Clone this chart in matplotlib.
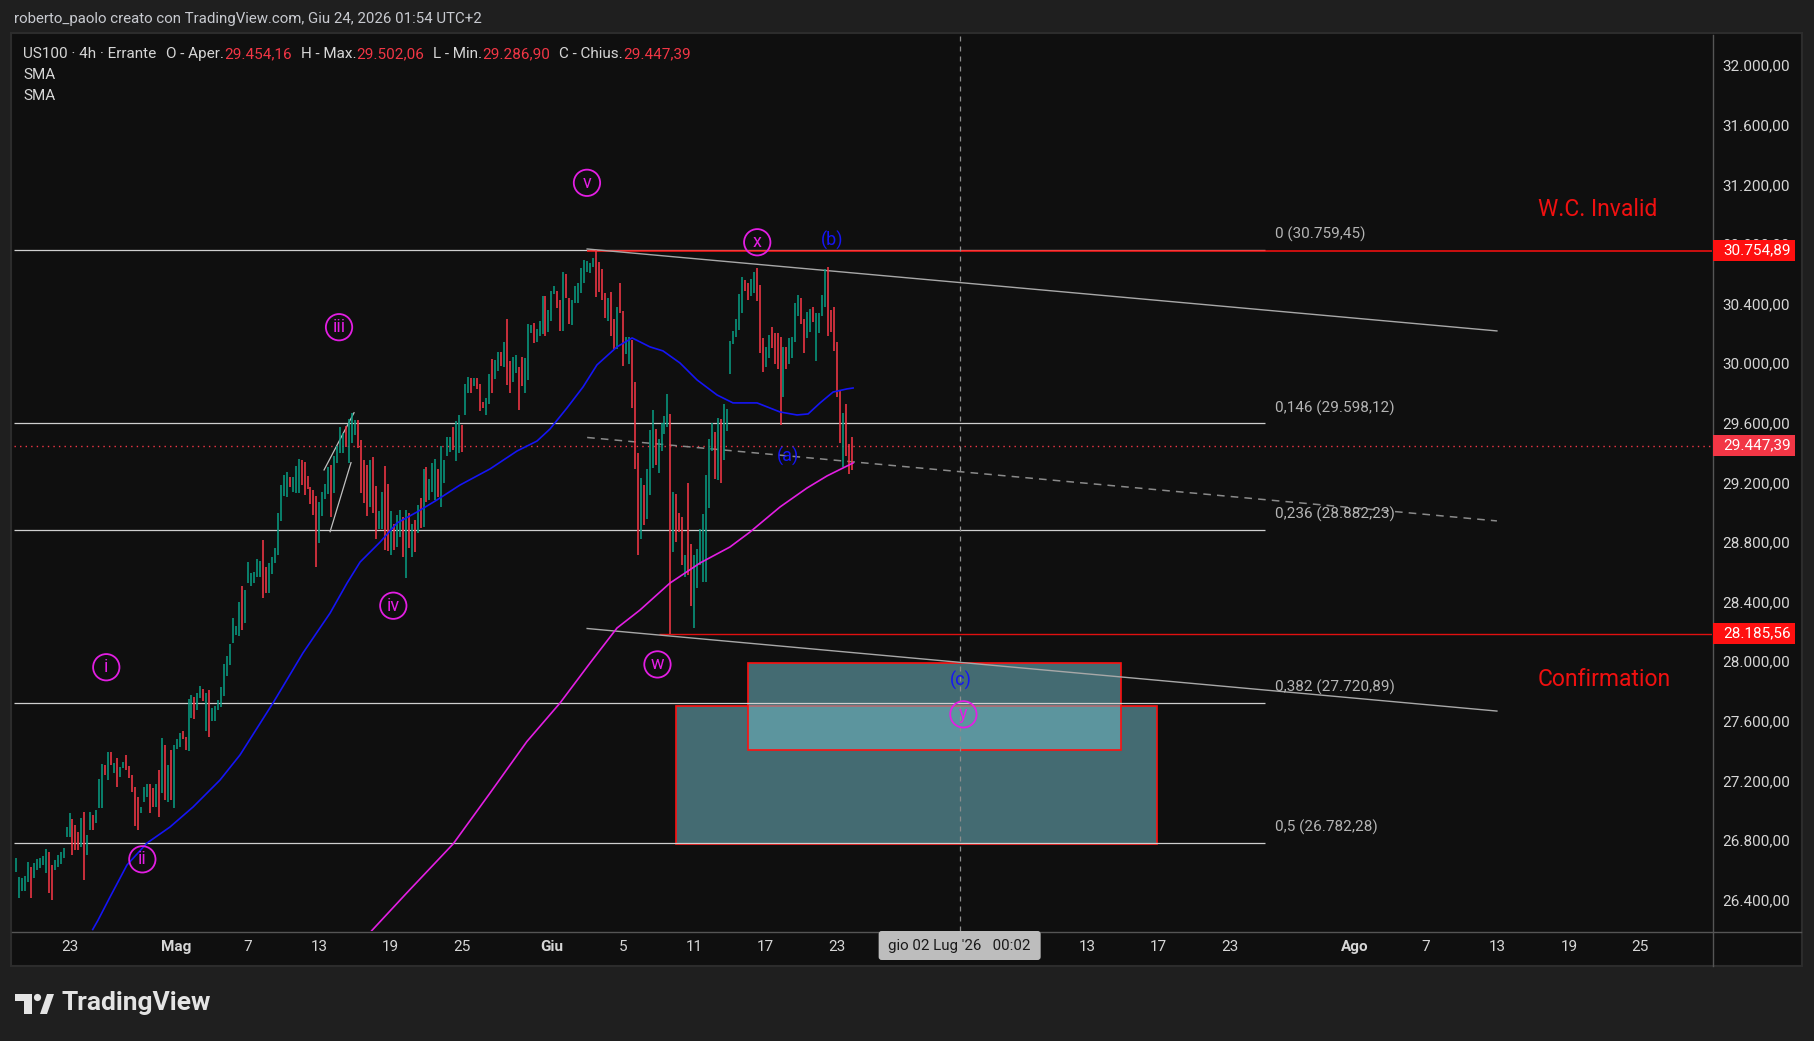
import matplotlib
matplotlib.use("Agg")
import matplotlib.pyplot as plt
from matplotlib.patches import Rectangle, Polygon, Circle, FancyBboxPatch
from matplotlib.transforms import IdentityTransform
from matplotlib.lines import Line2D

W, H, DPI = 1815, 1041, 100

# ---------------- data ----------------
# 4h candles, 6 bars per trading day, day 0 = Mon 20 Apr 2026
lows = [
    26589, 26410, 26461, 26461, 26522, 26410, 26544, 26600, 26610, 26630,
    26577, 26443, 26399, 26600, 26620, 26640, 26680, 26824, 26824, 26701,
    26734, 26734, 26756, 26533, 26701, 26868, 26868, 26913, 27014, 27014,
    27237, 27204, 27305, 27249, 27155, 27226, 27282, 27271, 27215, 27126,
    26895, 26868, 26980, 27058, 27092, 26980, 27025, 27020, 26958, 27119,
    27070, 27058, 27070, 27014, 27410, 27427, 27477, 27405, 27401, 27618,
    27611, 27674, 27752, 27736, 27535, 27490, 27602, 27602, 27674, 27696,
    27768, 27902, 27976, 28125, 28177, 28170, 28210, 28259, 28528, 28505,
    28528, 28568, 28564, 28427, 28456, 28461, 28586, 28658, 28713, 28944,
    29112, 29105, 29172, 29139, 29127, 29127, 29183, 29116, 29154, 29056,
    28982, 28631, 28796, 28975, 29087, 29122, 28966, 29127, 29333, 29400,
    29400, 29441, 29333, 29467, 29519, 29429, 29132, 29065, 28975, 29038,
    28998, 28819, 28886, 28886, 28747, 28743, 28713, 28747, 28769, 28837,
    28702, 28557, 28758, 28702, 28736, 28859, 28892, 28904, 29071, 29083,
    29139, 29083, 29105, 29033, 29199, 29378, 29407, 29418, 29347, 29400,
    29407, 29653, 29798, 29803, 29848, 29825, 29682, 29698, 29653, 29727,
    29803, 29892, 29951, 29982, 29977, 29854, 29799, 29877, 29933, 29687,
    29848, 29799, 29888, 30201, 30134, 30145, 30183, 30197, 30183, 30212,
    30286, 30465, 30369, 30219, 30219, 30436, 30264, 30257, 30407, 30402,
    30474, 30537, 30615, 30608, 30649, 30443, 30481, 30425, 30306, 30286,
    30183, 30098, 30094, 30335, 29982, 30062, 29995, 29698, 29293, 28713,
    28819, 28915, 28957, 29116, 29295, 29318, 29262, 29414, 29526, 29575,
    28186, 28736, 28803, 28870, 28646, 28568, 28579, 28371, 28221, 28490,
    28646, 28534, 28534, 29027, 29414, 29221, 29217, 29194, 29351, 29548,
    29928, 30129, 30174, 30223, 30340, 30487, 30425, 30452, 30470, 30420,
    30071, 29944, 29973, 30033, 30100, 29995, 29960, 29586, 29772, 29960,
    29995, 30033, 30145, 30317, 30264, 30071, 30168, 30212, 30279, 30017,
    30205, 30317, 30380, 30183, 30212, 30085, 29772, 29463, 29306, 29378,
    29257, 29286,
]
highs = [
    26678, 26555, 26544, 26560, 26656, 26622, 26645, 26670, 26680, 26690,
    26739, 26723, 26633, 26667, 26700, 26720, 26745, 26891, 26980, 26940,
    26902, 26857, 26947, 26991, 26835, 26991, 26969, 27003, 27211, 27311,
    27305, 27394, 27394, 27316, 27349, 27293, 27327, 27372, 27298, 27237,
    27159, 27088, 27025, 27159, 27175, 27175, 27148, 27177, 27271, 27483,
    27439, 27305, 27405, 27439, 27477, 27517, 27533, 27490, 27747, 27774,
    27763, 27790, 27835, 27812, 27786, 27808, 27685, 27701, 27741, 27826,
    27980, 28036, 28114, 28289, 28237, 28396, 28506, 28479, 28669, 28591,
    28597, 28684, 28673, 28814, 28635, 28658, 28698, 28763, 28993, 29181,
    29250, 29273, 29239, 29239, 29311, 29356, 29351, 29340, 29244, 29172,
    29150, 29109, 29067, 29139, 29190, 29306, 29317, 29378, 29445, 29575,
    29530, 29579, 29624, 29669, 29620, 29620, 29485, 29351, 29317, 29351,
    29369, 29176, 29011, 29139, 29311, 29190, 29011, 28922, 28980, 29015,
    28966, 29015, 28993, 28922, 28948, 29049, 29094, 29288, 29302, 29221,
    29333, 29356, 29288, 29445, 29351, 29503, 29508, 29575, 29615, 29653,
    29586, 29861, 29910, 29899, 29899, 29899, 29861, 29743, 29765, 29928,
    30027, 30022, 30078, 30078, 30145, 30295, 30015, 30045, 30053, 29977,
    30040, 30033, 30262, 30257, 30273, 30232, 30286, 30452, 30452, 30358,
    30485, 30519, 30487, 30425, 30610, 30597, 30436, 30425, 30519, 30541,
    30637, 30693, 30689, 30671, 30704, 30759, 30678, 30631, 30470, 30436,
    30481, 30295, 30376, 30541, 30351, 30174, 30179, 30156, 29877, 29400,
    29228, 29183, 29288, 29552, 29686, 29557, 29490, 29602, 29646, 29794,
    29660, 29138, 29121, 28993, 28966, 28713, 29199, 28787, 28713, 28751,
    28886, 28989, 29250, 29490, 29597, 29541, 29631, 29624, 29727, 29691,
    30152, 30219, 30295, 30465, 30581, 30559, 30536, 30563, 30615, 30637,
    30525, 30168, 30112, 30190, 30241, 30201, 30201, 30174, 30107, 30107,
    30168, 30174, 30407, 30458, 30436, 30295, 30347, 30362, 30380, 30340,
    30335, 30458, 30631, 30644, 30358, 30376, 30145, 29816, 29669, 29727,
    29458, 29502,
]
dirs = ("gggggrgggg grrggggggr rrgrggrggg rgrgrggrrr rrgggrrgrg "
        "rgrgggrrgg rggrgrgggg ggggggrggg gggrrggggg ggrgggrrrr "
        "rrggggrggg grgggrrrrg rrggrrgrgg rgrgrgrgrg ggrggggrgg "
        "rggrgrrrgg rggrgrrggr rgggrgggrg ggrrgrrggg gggggrrrrg "
        "rrgrrggrrr grgggrgggg rgrrrgrrgg gggggrgrgg gggggrrggr "
        "rrggrrrrgr ggggrrggrg gggrrrrrgr rr").replace(" ", "")
bars_per_day = 6
last_open, last_high, last_low, last_close = 29454.16, 29502.06, 29286.90, 29447.39

# SMA lines (day, price)
blue_d = [4.30, 4.60, 5.27, 6.22, 7.34, 8.63, 9.92, 11.43, 12.55, 14.40, 16.08,
          17.60, 18.55, 19.28, 20.40, 21.35, 22.47, 23.59, 24.88, 26.56, 28.07,
          29.19, 29.92, 30.87, 31.77, 32.55, 33.67, 34.52, 35.52, 36.25, 37.20,
          38.16, 39.28, 40.17, 41.52, 42.81, 43.76, 44.38, 45.05, 45.78, 46.56, 46.90]
blue_p = [26200, 26263, 26418, 26633, 26780, 26888, 27022, 27203, 27371, 27720, 28056,
          28324, 28525, 28666, 28800, 28928, 29002, 29083, 29183, 29291, 29411,
          29478, 29559, 29700, 29841, 29989, 30110, 30170, 30110, 30083, 30002,
          29888, 29787, 29734, 29734, 29673, 29653, 29660, 29734, 29807, 29828, 29834]
mag_d = [19.93, 21.89, 24.49, 26.56, 28.62, 30.48, 32.16, 33.67, 34.96, 36.64,
         38.33, 40.00, 41.13, 42.81, 44.32, 45.44, 46.90]
mag_p = [26192, 26445, 26774, 27116, 27461, 27720, 27988, 28223, 28344, 28525,
         28660, 28767, 28868, 29036, 29163, 29244, 29331]

# Fibonacci levels
fib_names = ["0", "0,146", "0,236", "0,382", "0,5"]
fib_prices = [30759.45, 29598.12, 28882.23, 27720.89, 26782.28]
fib_end_day = 69.98
fib_label_day = 70.54

# horizontal rays
invalid_price, invalid_start = 30754.89, 32.0
confirm_price, confirm_start = 28185.56, 36.0

# channel
chan_d = [32.0, 82.97]
chan_upper = [30767, 30217]
chan_mid = [29502, 28942]
chan_lower = [28220, 27666]
pen1_d, pen1_p = [17.26, 18.94], [29284, 29668]
pen2_d, pen2_p = [17.60, 18.77], [28870, 29333]

# target boxes (day0, day1, price0, price1)
box_outer = (37.00, 63.94, 26774, 27698)
box_inner = (41.03, 61.93, 27405, 27987)

cross_day = 52.87
cross_label = "gio 02 Lug '26   00:02"

# Elliott wave labels
ew_names = ["i", "ii", "iii", "iv", "v", "w", "x", "y"]
ew_d = [5.06, 7.08, 18.10, 21.14, 31.99, 35.94, 41.53, 53.08]
ew_p = [27960, 26671, 30242, 28373, 31211, 27979, 30812, 27644]
abc_names = ["(a)", "(b)", "(c)"]
abc_d = [43.24, 45.74, 52.93]
abc_p = [29378, 30827, 27872]

notes = ["W.C. Invalid", "Confirmation"]
notes_d = [88.6, 88.97]
notes_p = [31030, 27878]

tick_days = [3, 9, 13, 17, 21, 25, 30, 34, 38, 42, 46, 60, 64, 68, 75, 79, 83, 87, 91]
tick_names = ["23", "Mag", "7", "13", "19", "25", "Giu", "5", "11", "17", "23",
              "13", "17", "23", "Ago", "7", "13", "19", "25"]
month_names = ["Mag", "Giu", "Ago"]
price_ticks = [26400, 26800, 27200, 27600, 28000, 28400, 28800, 29200, 29600,
               30000, 30400, 30800, 31200, 31600, 32000]

header = "roberto_paolo creato con TradingView.com, Giu 24, 2026 01:54 UTC+2"
symbol = "US100 · 4h · Errante"
ind_names = ["SMA", "SMA"]

# ---------------- style ----------------
BG = "#0f0f0f"
OUT = "#1f1f1f"
GREEN = "#089981"
RED = "#f23645"
TXT = "#d6d6d6"
MAG = "#e31ee3"
BLUE = "#1515f5"

plt.rcParams['font.family'] = ['Roboto', 'DejaVu Sans']


def it_fmt(v):
    s = f"{v:,.2f}"
    return s.replace(",", "X").replace(".", ",").replace("X", ".")


fig = plt.figure(figsize=(W / DPI, H / DPI), dpi=DPI, facecolor=OUT)
ID = IdentityTransform()


def Y(y):  # top-down pixel -> display
    return H - y


# chart panel
fig.add_artist(Rectangle((11, Y(966)), 1802 - 11, 966 - 33, transform=ID,
                         facecolor=BG, edgecolor="#2c2c2c", lw=1.5, zorder=-10))

ax = fig.add_axes([14 / W, 1 - 931 / H, (1712 - 14) / W, (931 - 35) / H])
ax.set_facecolor(BG)
ax.set_xlim(-0.11, 95.02)
ax.set_ylim(26190, 32203)
for s in ax.spines.values():
    s.set_visible(False)

# fib levels
ax.hlines(fib_prices, -0.11, fib_end_day, colors="#cfcfcf", lw=0.9, zorder=2)
for nm, p in zip(fib_names, fib_prices):
    ax.annotate(f"{nm} ({it_fmt(p)})", xy=(fib_label_day, p), xytext=(0, 11),
                textcoords="offset points", ha="left", va="center",
                color="#b4b4b4", fontsize=11, zorder=6)

# boxes
for (d0, d1, p0, p1) in [box_outer, box_inner]:
    ax.add_patch(Rectangle((d0, p0), d1 - d0, p1 - p0,
                           facecolor=(112 / 255, 184 / 255, 196 / 255, 0.55),
                           edgecolor="#ff1010", lw=1.2, zorder=1.5))

# red rays
ax.hlines([invalid_price], invalid_start, 95.02, colors="#ff1010", lw=1.1, zorder=3)
ax.hlines([confirm_price], confirm_start, 95.02, colors="#e01010", lw=1.0, zorder=3)
# current price line
ax.axhline(last_close, color=RED, lw=1.0, ls=(0, (1, 3)), zorder=3)
# crosshair
ax.axvline(cross_day, color="#8c8c8c", lw=0.9, ls=(0, (4, 4)), zorder=3)

# channel lines
ax.plot(chan_d, chan_upper, color="#a8a8a8", lw=1.0, zorder=3)
ax.plot(chan_d, chan_lower, color="#a8a8a8", lw=1.0, zorder=3)
ax.plot(chan_d, chan_mid, color="#8a8a8a", lw=1.1, ls=(0, (5, 4)), zorder=3)
ax.plot(pen1_d, pen1_p, color="#c0c0c0", lw=0.9, zorder=3)
ax.plot(pen2_d, pen2_p, color="#c0c0c0", lw=0.9, zorder=3)

# candles
xs = [i / bars_per_day for i in range(len(lows))]
cols = [GREEN if c == "g" else RED for c in dirs]
ax.vlines(xs, lows, highs, colors=cols, lw=1.15, zorder=4)

# SMAs
ax.plot(blue_d, blue_p, color=BLUE, lw=1.2, zorder=5)
ax.plot(mag_d, mag_p, color=MAG, lw=1.2, zorder=5)

# Elliott labels
ax.scatter(ew_d, ew_p, s=360, facecolors="none", edgecolors=MAG, linewidths=1.3, zorder=7)
for nm, d, p in zip(ew_names, ew_d, ew_p):
    ax.text(d, p, nm, color=MAG, fontsize=13, ha="center", va="center", zorder=8)
for nm, d, p in zip(abc_names, abc_d, abc_p):
    ax.text(d, p, nm, color=BLUE, fontsize=13, ha="center", va="center", zorder=8)
for nm, d, p in zip(notes, notes_d, notes_p):
    ax.text(d, p, nm, color="#f01010", fontsize=16.5, ha="center", va="center", zorder=8)

# axes ticks
ax.yaxis.tick_right()
ax.set_yticks(price_ticks)
ax.set_yticklabels([it_fmt(p) for p in price_ticks])
ax.set_xticks(tick_days)
ax.set_xticklabels(tick_names)
ax.tick_params(axis="y", length=0, pad=7.5, labelcolor=TXT, labelsize=11)
ax.tick_params(axis="x", length=0, pad=6.5, labelcolor=TXT, labelsize=11)
for lab in ax.get_xticklabels():
    if lab.get_text() in month_names:
        lab.set_fontweight("bold")

# separators
fig.add_artist(Line2D([1712.5, 1712.5], [Y(35), Y(966)], transform=ID, color="#555555", lw=1.0))
fig.add_artist(Line2D([12, 1801], [Y(931.5), Y(931.5)], transform=ID, color="#555555", lw=1.0))

# price labels on the axis
for p, c in [(invalid_price, "#ff1010"), (last_close, RED), (confirm_price, "#ff1010")]:
    yd = ax.transData.transform((0, p))[1]
    fig.add_artist(Rectangle((1713, yd - 10.5), 82, 21, transform=ID, facecolor=c,
                             edgecolor="none", zorder=5))
    fig.text(1723, yd, it_fmt(p), transform=ID, color="white", fontsize=11,
             ha="left", va="center", zorder=6)

# crosshair time label
xc = ax.transData.transform((cross_day, 0))[0]
fig.add_artist(FancyBboxPatch((xc - 81, Y(960)), 162, 29, transform=ID,
                              boxstyle="round,pad=0,rounding_size=3",
                              facecolor="#bdbdbd", edgecolor="none", zorder=5))
fig.text(xc, Y(946), cross_label, transform=ID, color="#1a1a1a", fontsize=10.9,
         ha="center", va="center", zorder=6)

# header
fig.text(14, Y(18.5), header, transform=ID, color="#c8cad0", fontsize=10.8, va="center")

# legend line
renderer = fig.canvas.get_renderer()
pieces = [(symbol, TXT, 10), ("O - Aper.", TXT, 0), (it_fmt(last_open), RED, 9),
          ("H - Max.", TXT, 0), (it_fmt(last_high), RED, 9),
          ("L - Min.", TXT, 0), (it_fmt(last_low), RED, 9),
          ("C - Chius.", TXT, 0), (it_fmt(last_close), RED, 0)]
x = 23
for s, c, gap in pieces:
    t = fig.text(x, Y(54), s, transform=ID, color=c, fontsize=11, va="center")
    x = t.get_window_extent(renderer).x1 + gap
for k, nm in enumerate(ind_names):
    fig.text(23, Y(75 + 21 * k), nm, transform=ID, color=TXT, fontsize=11, va="center")

# TradingView logo
LC = "#e4e4e4"
fig.add_artist(Rectangle((15, Y(1001)), 17, 7, transform=ID, facecolor=LC, edgecolor="none"))
fig.add_artist(Rectangle((24, Y(1014)), 8, 20, transform=ID, facecolor=LC, edgecolor="none"))
fig.add_artist(Circle((37.5, Y(997.5)), 3.6, transform=ID, facecolor=LC, edgecolor="none"))
fig.add_artist(Polygon([(40, Y(1014)), (47, Y(1014)), (54, Y(994)), (47, Y(994))],
                       closed=True, transform=ID, facecolor=LC, edgecolor="none"))
fig.text(62, Y(1003), "TradingView", transform=ID, color=LC, fontsize=19,
         fontweight="bold", va="center", ha="left")

fig.savefig("out.png", dpi=DPI, facecolor=OUT)
